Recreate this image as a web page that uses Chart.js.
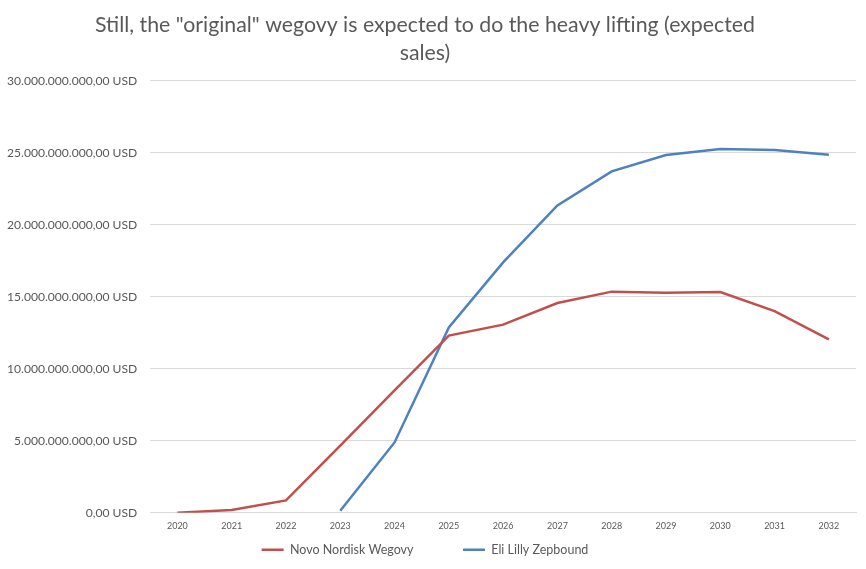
<!DOCTYPE html>
<html>
<head>
<meta charset="utf-8">
<script src="https://cdn.jsdelivr.net/npm/chart.js@4/dist/chart.umd.min.js"></script>
<style>
  html, body { margin: 0; padding: 0; background: #fff; }
  #wrap { width: 866px; height: 569px; }
</style>
</head>
<body>
<div id="wrap"><canvas id="myChart"></canvas></div>
<script>
"use strict";

// data, in billions of USD
const years = ['2020', '2021', '2022', '2023', '2024', '2025', '2026', '2027', '2028', '2029', '2030', '2031', '2032']
const novo_wegovy = [0, 0.19, 0.85, 4.65, 8.5, 12.3, 13.06, 14.56, 15.35, 15.28, 15.32, 14.0, 12.04]
const lilly_zepbound = [null, null, null, 0.14, 4.88, 12.87, 17.38, 21.34, 23.7, 24.84, 25.25, 25.19, 24.86]
const y_ticks = [0, 5, 10, 15, 20, 25, 30]

const font_family = "Lato, 'Open Sans', sans-serif"

// 30 -> "30.000.000.000,00 USD"
function usd_label(billions) {
  const whole = String(Math.round(billions * 1e9))
  const grouped = whole.replace(/\B(?=(\d{3})+(?!\d))/g, '.')
  return grouped + ',00 USD'
}

const my_data = {
  labels: years,
  datasets: [{
    label: 'Novo Nordisk Wegovy',
    data: novo_wegovy,
    borderColor: '#C0504D',
    backgroundColor: '#C0504D',
    borderWidth: 2.5,
    pointRadius: 0,
    tension: 0
  }, {
    label: 'Eli Lilly Zepbound',
    data: lilly_zepbound,
    borderColor: '#4F81BD',
    backgroundColor: '#4F81BD',
    borderWidth: 2.5,
    pointRadius: 0,
    tension: 0
  }]
}

const config = {
  type: 'line',
  data: my_data,
  options: {
    responsive: true,
    maintainAspectRatio: false,
    animation: false,
    layout: { padding: { left: -6, right: 10, top: 11, bottom: 3 } },
    scales: {
      x: {
        offset: true,
        grid: { display: false },
        border: { color: '#d9d9d9' },
        ticks: { color: '#595959', font: { family: font_family, size: 9 }, maxRotation: 0, padding: 0 }
      },
      y: {
        min: 0,
        max: 30,
        afterBuildTicks: (axis) => { axis.ticks = y_ticks.map(v => ({ value: v })) },
        grid: { color: '#d9d9d9', tickLength: 0 },
        border: { display: false },
        ticks: {
          color: '#595959',
          font: { family: font_family, size: 12.1 },
          padding: 13,
          callback: (v) => usd_label(v)
        }
      }
    },
    plugins: {
      title: {
        display: true,
        text: ['Still, the "original" wegovy is expected to do the heavy lifting (expected', 'sales)'],
        color: '#595959',
        font: { family: font_family, size: 21.3, weight: 'normal', lineHeight: 1.33 },
        padding: { top: 0, bottom: 13 }
      },
      legend: {
        position: 'bottom',
        labels: {
          color: '#595959',
          font: { family: font_family, size: 12.5 },
          usePointStyle: true,
          pointStyle: 'line',
          pointStyleWidth: 22,
          padding: 12,
          // widen the gap after the first entry without adding vertical room
          generateLabels: (chart) => {
            const items = Chart.defaults.plugins.legend.labels.generateLabels(chart)
            items[0].text = items[0].text + '\u2002\u2002\u2002\u2002\u2002\u2002'
            return items
          }
        }
      },
      tooltip: { enabled: false }
    }
  }
}

const my_chart = new Chart(document.getElementById('myChart'), config)
</script>
</body>
</html>
